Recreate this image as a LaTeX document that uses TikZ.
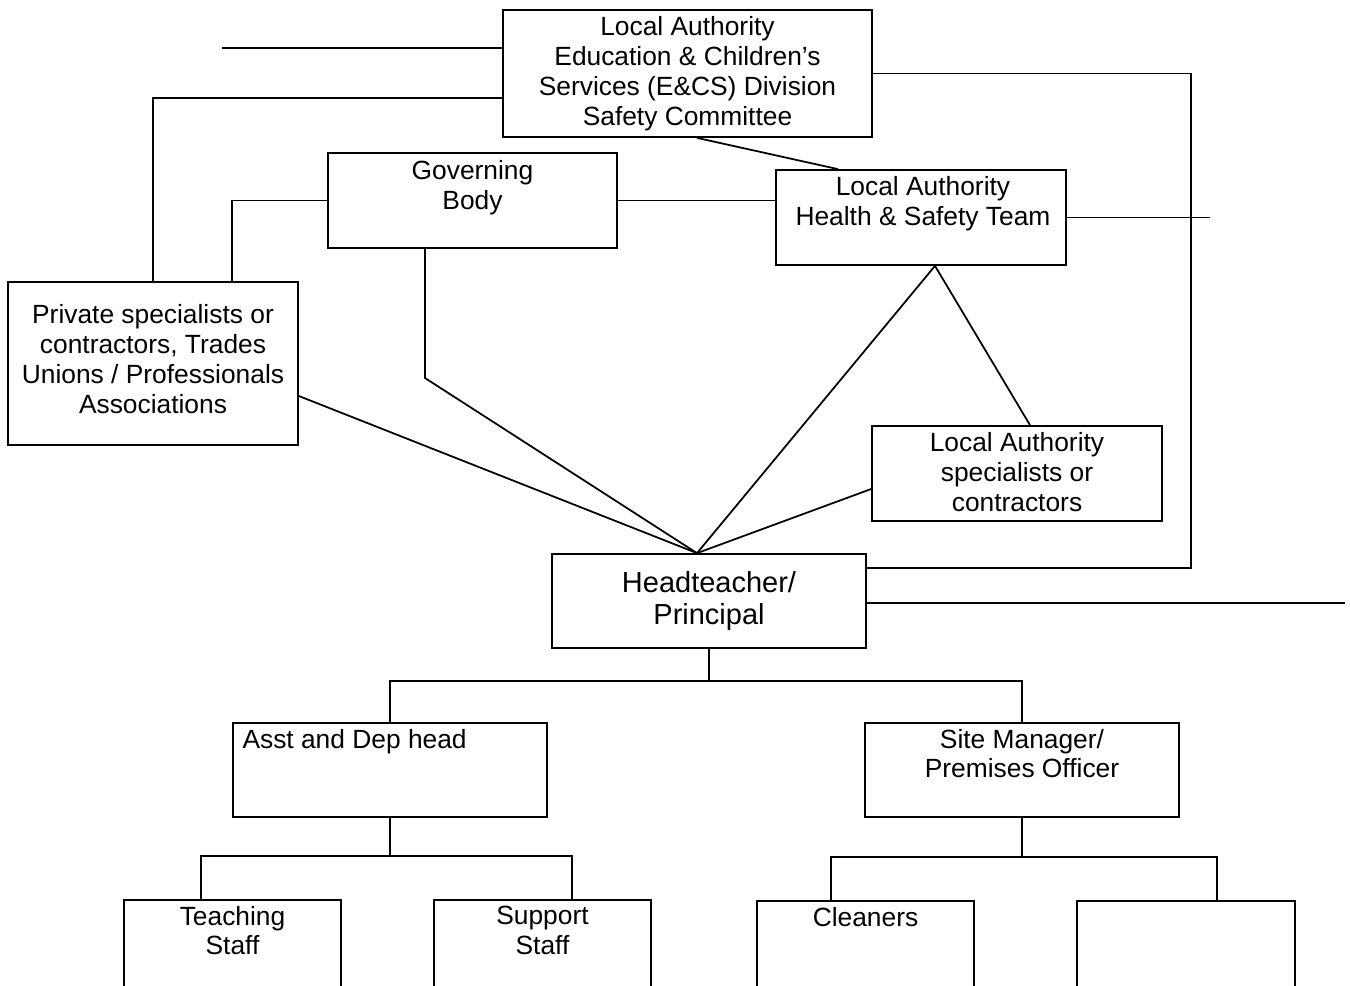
\documentclass[tikz,border=0pt]{standalone}
\usepackage{fontspec}
\setmainfont{Liberation Sans}
\usepackage{tikz}
\usetikzlibrary{positioning}
\tikzset{
	boxnode/.style={rectangle, draw=black, line width=1pt, inner sep=0pt},
	txtnode/.style={align=center, inner sep=0pt, font=\fontsize{15}{17}\selectfont},
	bigtxt/.style={align=center, inner sep=0pt, font=\fontsize{16.5}{18.5}\selectfont},
	link/.style={line width=1pt}
}

\begin{document}
\begin{tikzpicture}[x=0.02cm, y=-0.02cm]
		\useasboundingbox (0,0) rectangle (1350,985);
		\fill[white] (0,0) rectangle (1350,985);
		\clip (0,0) rectangle (1350,985);
		
		\node[boxnode, minimum width=7.38cm, minimum height=2.54cm] at (687.5,73.5) (lae) {};
		\node[boxnode, minimum width=5.78cm, minimum height=1.9cm] at (472.5,200.5) (gov) {};
		\node[boxnode, minimum width=5.8cm, minimum height=1.9cm] at (921,217.5) (hs) {};
		\node[boxnode, minimum width=5.8cm, minimum height=3.26cm] at (153,363.5) (priv) {};
		\node[boxnode, minimum width=5.8cm, minimum height=1.9cm] at (1017,473.5) (lasp) {};
		\node[boxnode, minimum width=6.28cm, minimum height=1.88cm] at (709,601) (head) {};
		\node[boxnode, minimum width=6.28cm, minimum height=1.88cm] at (390,770) (asst) {};
		\node[boxnode, minimum width=6.28cm, minimum height=1.88cm] at (1022,770) (site) {};
		\node[boxnode, minimum width=4.34cm, minimum height=1.9cm] at (232.5,947.5) (teach) {};
		\node[boxnode, minimum width=4.34cm, minimum height=1.9cm] at (542.5,947.5) (supp) {};
		\node[boxnode, minimum width=4.34cm, minimum height=1.9cm] at (865.5,948.5) (clean) {};
		\node[boxnode, minimum width=4.36cm, minimum height=1.9cm] at (1186,948.5) (blank) {};
		
		\node[txtnode, below=4pt of lae.north] (laeT) {Local Authority\\Education \& Children’s\\Services (E\&CS) Division\\Safety Committee};
		\node[txtnode, below=4.5pt of gov.north] (govT) {Governing\\Body};
		\node[txtnode, below=4pt of hs.north, xshift=0.04cm] (hsT) {Local Authority\\Health \& Safety Team};
		\node[txtnode, yshift=0.09cm] at (priv) (privT) {Private specialists or\\contractors, Trades\\Unions / Professionals\\Associations};
		\node[txtnode, below=4pt of lasp.north] (laspT) {Local Authority\\specialists or\\contractors};
		\node[bigtxt] at (head) (headT) {Headteacher/\\Principal};
		\node[txtnode, anchor=north west, below right=3.7pt and 5.7pt of asst.north west] (asstT) {Asst and Dep head};
		\node[txtnode, below=3.7pt of site.north] (siteT) {Site Manager/\\Premises Officer};
		\node[txtnode, below=3.7pt of teach.north] (teachT) {Teaching\\Staff};
		\node[txtnode, below=3.7pt of supp.north] (suppT) {Support\\Staff};
		\node[txtnode, below=3.7pt of clean.north] (cleanT) {Cleaners};
		
		\coordinate (laeL) at (222,48);
		\coordinate (hsR) at (hs.east -| 1210,0);
		\coordinate (headR) at (1345,603);
		\coordinate (hub) at (head.north -| 697,0);
		
		\draw[link] (laeL) -- (laeL -| lae.west);
		\draw[link] (priv.north) |- (lae.west |- 0,98);
		\draw[link] (lae.east) -| (1191,568) -- (head.east |- 0,568);
		\draw[link] (lae.south -| 697,0) -- (hs.north -| 838,0);
		\draw[link] (gov.east) -- (hs.west |- gov.east);
		\draw[link] (gov.west) -| (priv.north -| 232,0);
		\draw[link] (hs.east) -- (hsR);
		\draw[link] (gov.south -| 425,0) -- (425,378) -- (hub);
		\draw[link] (priv.east |- 0,396) -- (hub);
		\draw[link] (hs.south -| 935,0) -- (hub);
		\draw[link] (hs.south -| 935,0) -- (lasp.north -| 1030,0);
		\draw[link] (lasp.west |- 0,489) -- (hub);
		\draw[link] (head.east |- headR) -- (headR);
		
		\draw[link] (head.south) -- (head.south |- 0,681);
		\draw[link] (asst.north) |- (site.north |- 0,681) -- (site.north);
		\draw[link] (asst.south) -- (asst.south |- 0,856);
		\draw[link] (teach.north -| 201,0) |- (572,856) -- (supp.north -| 572,0);
		\draw[link] (site.south) -- (site.south |- 0,857);
		\draw[link] (clean.north -| 831,0) |- (1217,857) -- (blank.north -| 1217,0);
	\end{tikzpicture}
\end{document}
